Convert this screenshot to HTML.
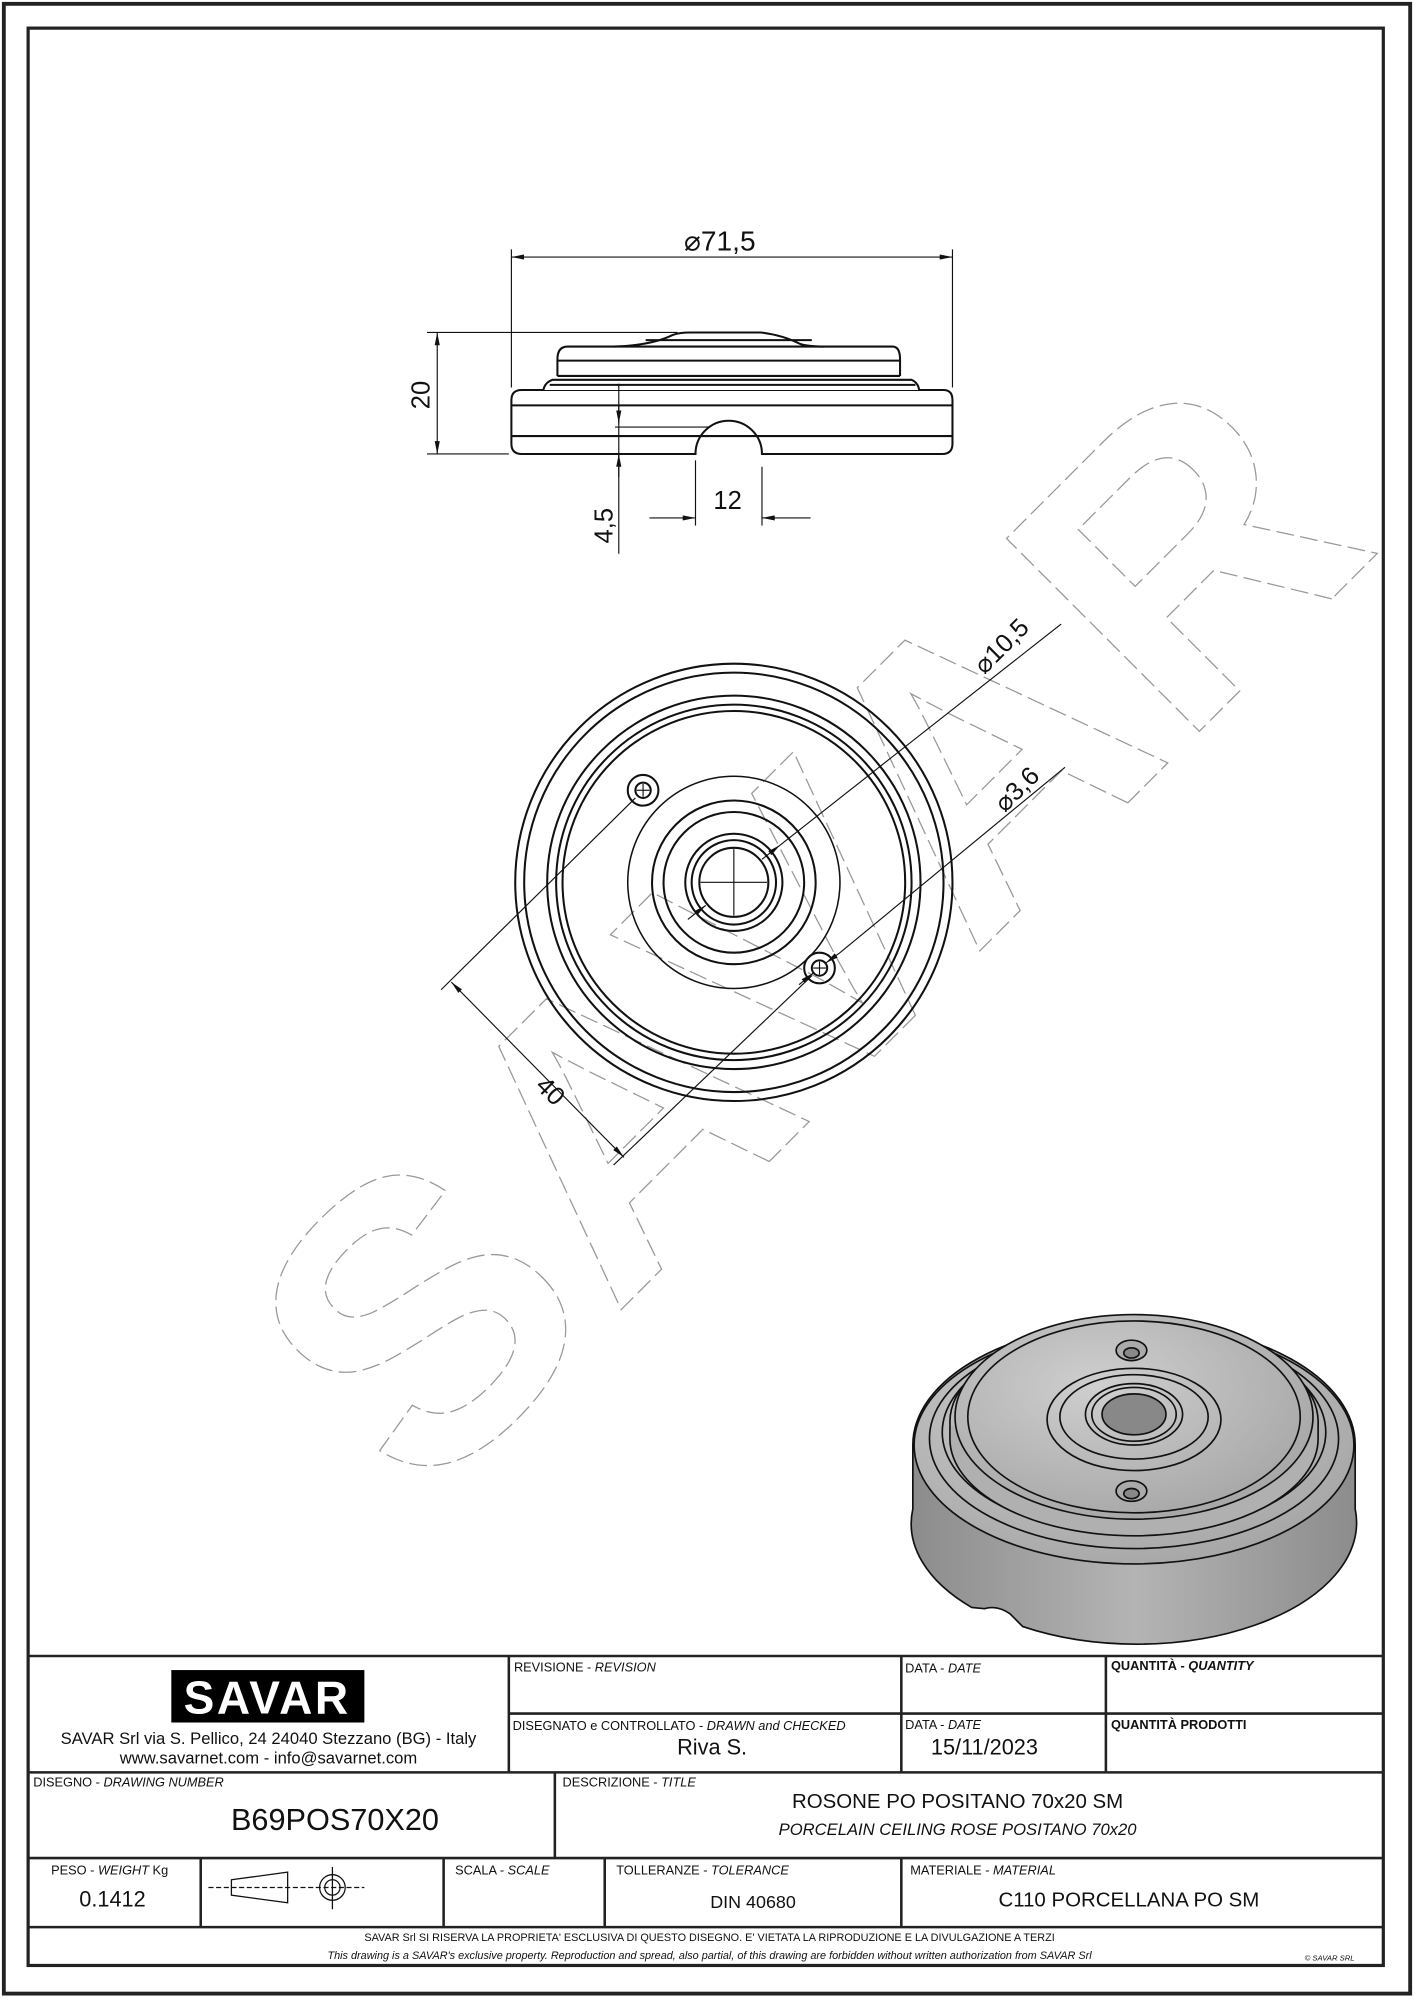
<!DOCTYPE html>
<html><head><meta charset="utf-8"><style>
html,body{margin:0;padding:0;background:#fff}
svg{display:block}
text{font-family:"Liberation Sans",sans-serif;fill:#111}
</style></head><body>
<svg width="1414" height="2000" viewBox="0 0 1106 1564" preserveAspectRatio="none" xmlns="http://www.w3.org/2000/svg">
<defs>
<marker id="a" viewBox="0 0 10 4" refX="10" refY="2" markerWidth="10" markerHeight="4" orient="auto-start-reverse" markerUnits="userSpaceOnUse"><path d="M0,0L10,2L0,4z" fill="#111"/></marker>
<radialGradient id="g" cx="0.4" cy="0.35" r="0.8"><stop offset="0" stop-color="#cfcfcf"/><stop offset="1" stop-color="#a0a0a0"/></radialGradient>
<linearGradient id="s" x1="0" y1="0" x2="1" y2="0"><stop offset="0" stop-color="#8c8c8c"/><stop offset="0.5" stop-color="#b4b4b4"/><stop offset="1" stop-color="#8c8c8c"/></linearGradient>
</defs>
<rect x="3" y="3" width="1100" height="1556" fill="none" stroke="#222" stroke-width="3"/>
<rect x="22" y="22" width="1060" height="1515" fill="none" stroke="#222" stroke-width="2.5"/>

<!-- watermark -->
<text x="0" y="0" transform="translate(330,1180) rotate(-45)" font-size="310" font-weight="bold" fill="none" stroke="#999" stroke-width="1" stroke-dasharray="14,5" letter-spacing="6" style="fill:none">SAVAR</text>

<!-- side view -->
<g fill="none" stroke="#111" stroke-width="1.6">
<path d="M408,305 H738 Q745,305 745,313 V347 Q745,355 737,355 H596 A26,26 0 0 0 544,355 H408 Q400,355 400,347 V313 Q400,305 408,305Z" fill="#fff"/>
<line x1="400" y1="317" x2="745" y2="317"/><line x1="400" y1="341" x2="745" y2="341"/>
<path d="M425,305 Q426,300 430,298 L432,297 H713 Q718,299 719,305" fill="#fff"/>
<line x1="430" y1="301" x2="716" y2="301"/>
<path d="M436,294 V281 Q436,271 444,271 H698 Q704,271 704,281 V294" fill="#fff"/>
<line x1="436" y1="294" x2="704" y2="294"/><line x1="436" y1="282" x2="704" y2="282"/>
<path d="M480,271 Q510,270 526,262 Q531,260 540,260 H595 Q612,262 626,269 Q632,271 645,271"/>
<line x1="505" y1="266" x2="635" y2="266"/>
</g>
<g stroke="#111" stroke-width="0.9" fill="none">
<line x1="400" y1="303" x2="400" y2="195"/><line x1="745" y1="303" x2="745" y2="195"/>
<line x1="400" y1="201" x2="745" y2="201" marker-start="url(#a)" marker-end="url(#a)"/>
<line x1="334" y1="260" x2="530" y2="260"/><line x1="334" y1="355" x2="398" y2="355"/>
<line x1="342" y1="260" x2="342" y2="355" marker-start="url(#a)" marker-end="url(#a)"/>
<line x1="484" y1="300" x2="484" y2="433"/>
<line x1="484" y1="317" x2="484" y2="331" marker-end="url(#a)"/>
<line x1="484" y1="373" x2="484" y2="355" marker-end="url(#a)"/>
<line x1="481" y1="334" x2="555" y2="334"/>
<line x1="544" y1="360" x2="544" y2="411"/><line x1="596" y1="365" x2="596" y2="411"/>
<line x1="508" y1="405" x2="544" y2="405" marker-end="url(#a)"/>
<line x1="634" y1="405" x2="596" y2="405" marker-end="url(#a)"/>
</g>
<text x="535" y="196" font-size="22">⌀71,5</text>
<text transform="translate(336,320) rotate(-90)" font-size="20">20</text>
<text transform="translate(479,425) rotate(-90)" font-size="20">4,5</text>
<text x="558" y="398" font-size="20">12</text>

<!-- top view -->
<g fill="none" stroke="#111" stroke-width="1.6">
<circle cx="574" cy="690" r="171"/><circle cx="574" cy="690" r="164"/>
<circle cx="574" cy="690" r="146"/><circle cx="574" cy="690" r="139"/><circle cx="574" cy="690" r="134"/>
<circle cx="574" cy="690" r="83" stroke-width="1.2"/><circle cx="574" cy="690" r="64"/><circle cx="574" cy="690" r="55"/>
<circle cx="574" cy="690" r="38"/><circle cx="574" cy="690" r="33"/><circle cx="574" cy="690" r="27"/>
<circle cx="503" cy="618" r="12"/><circle cx="503" cy="618" r="6"/>
<circle cx="641" cy="757" r="12"/><circle cx="641" cy="757" r="6"/>
</g>
<g stroke="#111" stroke-width="0.9" fill="none">
<line x1="574" y1="664" x2="574" y2="716"/><line x1="548" y1="690" x2="600" y2="690"/>
<line x1="498" y1="618" x2="508" y2="618"/><line x1="503" y1="613" x2="503" y2="623"/>
<line x1="636" y1="757" x2="646" y2="757"/><line x1="641" y1="752" x2="641" y2="762"/>
<line x1="497" y1="624" x2="345" y2="774"/><line x1="635" y1="763" x2="480" y2="911"/>
<line x1="353" y1="768" x2="488" y2="905" marker-start="url(#a)" marker-end="url(#a)"/>
<line x1="538" y1="719" x2="552" y2="708" marker-end="url(#a)"/>
<line x1="610" y1="661" x2="596" y2="672" marker-start="url(#a)"/>
<line x1="610" y1="661" x2="830" y2="488"/>
<line x1="625" y1="770" x2="636" y2="761" marker-end="url(#a)"/>
<line x1="657" y1="745" x2="646" y2="753" marker-end="url(#a)"/>
<line x1="657" y1="745" x2="833" y2="600"/>
</g>
<text transform="translate(418,850) rotate(45)" font-size="20">40</text>
<text transform="translate(770,528) rotate(-45)" font-size="20">⌀10,5</text>
<text transform="translate(786,636) rotate(-45)" font-size="20">⌀3,6</text>

<!-- 3D -->
<g stroke="#111" stroke-width="1.3">
<path d="M714,1130 A172,95 0 0 1 1060,1130 V1180 A172,95 0 0 1 800,1272 L790,1262 Q780,1255 770,1258 L760,1257 A172,95 0 0 1 714,1180Z" fill="url(#s)"/>
<ellipse cx="887" cy="1130" rx="172" ry="93" fill="url(#g)"/>
<ellipse cx="887" cy="1125" rx="160" ry="86" fill="none"/>
<ellipse cx="887" cy="1120" rx="150" ry="80" fill="none"/>
<ellipse cx="887" cy="1112" rx="144" ry="76" fill="none"/>
<path d="M743,1115 V1125 A144,76 0 0 0 1031,1125 V1110" fill="#b0b0b0"/>
<ellipse cx="887" cy="1108" rx="140" ry="80" fill="url(#g)"/>
<ellipse cx="887" cy="1108" rx="130" ry="75" fill="none"/>
<ellipse cx="887" cy="1110" rx="68" ry="40" fill="none"/>
<ellipse cx="887" cy="1108" rx="58" ry="33" fill="none"/>
<ellipse cx="887" cy="1106" rx="38" ry="24" fill="none"/>
<ellipse cx="887" cy="1106" rx="33" ry="21" fill="none"/>
<ellipse cx="887" cy="1106" rx="25" ry="16" fill="#888"/>
<ellipse cx="885" cy="1056" rx="12" ry="8" fill="#aaa"/><ellipse cx="885" cy="1058" rx="6" ry="4" fill="#888"/>
<ellipse cx="885" cy="1166" rx="12" ry="8" fill="#aaa"/><ellipse cx="885" cy="1168" rx="6" ry="4" fill="#888"/>
</g>

<!-- title block -->
<g stroke="#222" stroke-width="2" fill="none">
<line x1="22" y1="1295" x2="1082" y2="1295"/>
<line x1="398" y1="1340" x2="1082" y2="1340"/>
<line x1="22" y1="1386" x2="1082" y2="1386"/>
<line x1="22" y1="1453" x2="1082" y2="1453"/>
<line x1="22" y1="1507" x2="1082" y2="1507"/>
<line x1="398" y1="1295" x2="398" y2="1386"/>
<line x1="705" y1="1295" x2="705" y2="1386"/>
<line x1="865" y1="1295" x2="865" y2="1386"/>
<line x1="434" y1="1386" x2="434" y2="1453"/>
<line x1="157" y1="1453" x2="157" y2="1507"/>
<line x1="347" y1="1453" x2="347" y2="1507"/>
<line x1="473" y1="1453" x2="473" y2="1507"/>
<line x1="705" y1="1453" x2="705" y2="1507"/>
</g>
<rect x="134" y="1306" width="151" height="41" fill="#000"/>
<text x="209" y="1340" font-size="36" text-anchor="middle" style="fill:#fff" font-weight="bold" letter-spacing="2">SAVAR</text>
<text x="210" y="1364" font-size="13" text-anchor="middle">SAVAR Srl via S. Pellico, 24  24040 Stezzano (BG) - Italy</text>
<text x="210" y="1379" font-size="13" text-anchor="middle">www.savarnet.com  -  info@savarnet.com</text>
<g font-size="10">
<text x="402" y="1307">REVISIONE - <tspan font-style="italic">REVISION</tspan></text>
<text x="708" y="1308">DATA - <tspan font-style="italic">DATE</tspan></text>
<text x="869" y="1306" font-weight="bold">QUANTITÀ - <tspan font-style="italic">QUANTITY</tspan></text>
<text x="401" y="1353">DISEGNATO e CONTROLLATO - <tspan font-style="italic">DRAWN and CHECKED</tspan></text>
<text x="708" y="1352">DATA - <tspan font-style="italic">DATE</tspan></text>
<text x="869" y="1352" font-weight="bold">QUANTITÀ  PRODOTTI</text>
<text x="26" y="1397">DISEGNO - <tspan font-style="italic">DRAWING NUMBER</tspan></text>
<text x="440" y="1397">DESCRIZIONE - <tspan font-style="italic">TITLE</tspan></text>
<text x="40" y="1466">PESO - <tspan font-style="italic">WEIGHT</tspan> Kg</text>
<text x="356" y="1466">SCALA - <tspan font-style="italic">SCALE</tspan></text>
<text x="482" y="1466">TOLLERANZE - <tspan font-style="italic">TOLERANCE</tspan></text>
<text x="712" y="1466">MATERIALE - <tspan font-style="italic">MATERIAL</tspan></text>
</g>
<text x="557" y="1372" font-size="17" text-anchor="middle">Riva S.</text>
<text x="770" y="1372" font-size="17" text-anchor="middle">15/11/2023</text>
<text x="262" y="1431" font-size="24" text-anchor="middle">B69POS70X20</text>
<text x="749" y="1414" font-size="16" text-anchor="middle">ROSONE PO POSITANO 70x20 SM</text>
<text x="749" y="1435" font-size="13" font-style="italic" text-anchor="middle">PORCELAIN CEILING ROSE POSITANO 70x20</text>
<text x="88" y="1491" font-size="17" text-anchor="middle">0.1412</text>
<text x="589" y="1492" font-size="14" text-anchor="middle">DIN 40680</text>
<text x="883" y="1491" font-size="16" text-anchor="middle">C110 PORCELLANA PO SM</text>
<g stroke="#111" stroke-width="1" fill="none">
<path d="M181,1470 L225,1464 V1488 L181,1482Z"/>
<line x1="163" y1="1476" x2="285" y2="1476" stroke-dasharray="4,2"/>
<circle cx="260" cy="1476" r="10"/><circle cx="260" cy="1476" r="6"/>
<line x1="260" y1="1460" x2="260" y2="1493"/>
</g>
<text x="555" y="1518" font-size="8.5" text-anchor="middle">SAVAR Srl SI RISERVA LA PROPRIETA' ESCLUSIVA DI QUESTO DISEGNO. E' VIETATA LA RIPRODUZIONE E LA DIVULGAZIONE A TERZI</text>
<text x="555" y="1532" font-size="8.5" font-style="italic" text-anchor="middle">This drawing is a SAVAR's exclusive property. Reproduction and spread, also partial, of this drawing are forbidden without written authorization from SAVAR Srl</text>
<text x="1040" y="1533" font-size="6" font-style="italic" text-anchor="middle">© SAVAR SRL</text>
</svg>
</body></html>
